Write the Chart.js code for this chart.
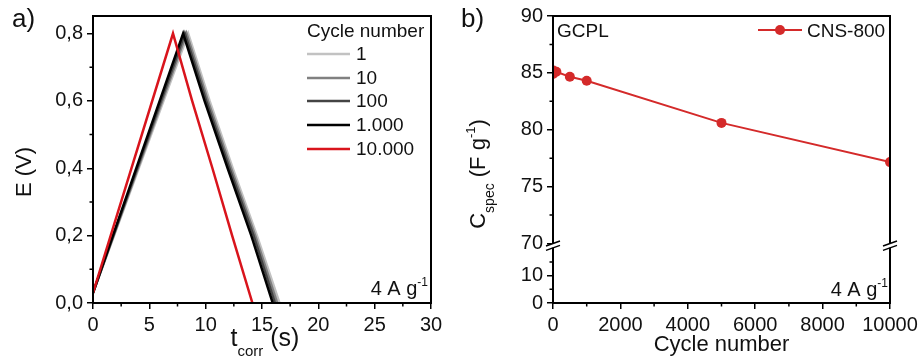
<!DOCTYPE html>
<html>
<head>
<meta charset="utf-8">
<script src="https://cdn.jsdelivr.net/npm/chart.js@4.4.0/dist/chart.umd.min.js"></script>
<style>
  body { margin: 0; background: #fff; }
  #wrapA { position: absolute; left: 0; top: 0; width: 460px; height: 363px; }
  #wrapB { position: absolute; left: 460px; top: 0; width: 463px; height: 363px; }
</style>
</head>
<body>
<div id="wrapA"><canvas id="chartA" width="460" height="363"></canvas></div>
<div id="wrapB"><canvas id="chartB" width="463" height="363"></canvas></div>
<script>
// === Panel a) GCPL curves ===
const cycleLabels = ["1", "10", "100", "1.000", "10.000"];
const cycleColors = ["#c2c2c2", "#808080", "#444444", "#000000", "#d9141c"];
// E (V) at each point of a curve: start, peak, then discharge
const gcdVoltage = [0.03, 0.8, 0.6, 0.4, 0.2, 0.0];
// t_corr (s) per cycle, same order as gcdVoltage
const gcdTime = [
  [0, 8.45, 10.35, 12.4, 14.55, 16.55],
  [0, 8.3, 10.2, 12.25, 14.4, 16.35],
  [0, 8.15, 10.05, 12.1, 14.25, 16.15],
  [0, 8.0, 9.9, 11.95, 14.05, 15.95],
  [0, 7.1, 8.8, 10.6, 12.35, 14.15]
];
const xTicksA = [0, 5, 10, 15, 20, 25, 30];
const yTicksA = [0, 0.2, 0.4, 0.6, 0.8];

// === Panel b) capacity vs cycles ===
const cycleNumbers = [1, 10, 100, 500, 1000, 5000, 10000];
const capacity = [84.9, 85.2, 85.1, 84.65, 84.3, 80.6, 77.15];
const xTicksB = [0, 2000, 4000, 6000, 8000, 10000];
const yTicksUpper = [70, 75, 80, 85, 90];
const yTicksLower = [0, 10];

const FONT = "'Liberation Sans', Arial, sans-serif";
const INK = "#111";

function mids(arr) {
  const out = [];
  for (let i = 0; i < arr.length - 1; i++) out.push((arr[i] + arr[i + 1]) / 2);
  return out;
}

function setTicks(values) {
  return scale => { scale.ticks = values.map(v => ({ value: v })); };
}

function axisStyle(values, fmt) {
  return {
    afterBuildTicks: setTicks(values),
    grid: { drawOnChartArea: false, tickLength: 6, color: "#000", lineWidth: 1.5 },
    border: { color: "#000", width: 2 },
    ticks: { font: { family: FONT, size: 20 }, color: INK, padding: 4, maxRotation: 0,
             callback: fmt || (v => v) }
  };
}

function minorY(ctx, scale, values, x) {
  ctx.beginPath();
  values.forEach(v => {
    const y = scale.getPixelForValue(v);
    ctx.moveTo(x, y); ctx.lineTo(x - 3.5, y);
  });
  ctx.stroke();
}

function minorX(ctx, scale, values, y) {
  ctx.beginPath();
  values.forEach(v => {
    const x = scale.getPixelForValue(v);
    ctx.moveTo(x, y); ctx.lineTo(x, y + 3.5);
  });
  ctx.stroke();
}

// draws a run of text pieces: [text, size, dy]
function richText(ctx, parts, x, y, align) {
  let w = 0;
  parts.forEach(p => { ctx.font = p[1] + "px " + FONT; w += ctx.measureText(p[0]).width; });
  let cx = align === "center" ? x - w / 2 : align === "right" ? x - w : x;
  ctx.textAlign = "left";
  ctx.textBaseline = "alphabetic";
  parts.forEach(p => {
    ctx.font = p[1] + "px " + FONT;
    ctx.fillText(p[0], cx, y + (p[2] || 0));
    cx += ctx.measureText(p[0]).width;
  });
}

const frameA = {
  id: "frameA",
  afterDraw(chart) {
    const ctx = chart.ctx, a = chart.chartArea;
    ctx.save();
    ctx.strokeStyle = "#000";
    ctx.lineWidth = 2;
    ctx.strokeRect(a.left, a.top, a.right - a.left, a.bottom - a.top);
    ctx.lineWidth = 1.5;
    minorY(ctx, chart.scales.y, mids(yTicksA), a.left);
    minorX(ctx, chart.scales.x, mids(xTicksA), a.bottom);

    ctx.fillStyle = INK;
    richText(ctx, [["a)", 26]], 12, 27, "left");
    richText(ctx, [["t", 25], ["corr", 15, 10], [" (s)", 25]], 265, 346, "center");
    richText(ctx, [["4 A g", 20], ["-1", 12, -9]], 428, 295, "right");

    ctx.save();
    ctx.translate(31, 172);
    ctx.rotate(-Math.PI / 2);
    richText(ctx, [["E (V)", 22]], 0, 0, "center");
    ctx.restore();

    // legend
    ctx.font = "19px " + FONT;
    ctx.textBaseline = "middle";
    ctx.textAlign = "left";
    ctx.fillText("Cycle number", 307, 32);
    const rows = [54, 78, 101, 125, 149];
    chart.data.datasets.forEach((ds, i) => {
      ctx.strokeStyle = ds.borderColor;
      ctx.lineWidth = 2.5;
      ctx.beginPath();
      ctx.moveTo(307, rows[i]); ctx.lineTo(350, rows[i]);
      ctx.stroke();
      ctx.fillText(ds.label, 356, rows[i] + 1);
    });
    ctx.restore();
  }
};

new Chart(document.getElementById("chartA"), {
  type: "line",
  data: {
    datasets: cycleLabels.map((lab, i) => ({
      label: lab,
      data: gcdTime[i].map((t, k) => ({ x: t, y: gcdVoltage[k] })),
      borderColor: cycleColors[i],
      borderWidth: 2.5,
      pointRadius: 0,
      tension: 0,
      order: cycleLabels.length - 1 - i
    }))
  },
  options: {
    responsive: false,
    animation: false,
    layout: { padding: { top: 15, right: 29, left: 0, bottom: 0 } },
    plugins: { legend: { display: false }, tooltip: { enabled: false } },
    scales: {
      x: Object.assign({ type: "linear", min: 0, max: 30, afterFit: s => { s.height = 60; } },
                       axisStyle(xTicksA)),
      y: Object.assign({ type: "linear", min: 0, max: 0.852, afterFit: s => { s.width = 93; } },
                       axisStyle(yTicksA, v => v.toFixed(1).replace(".", ",")))
    }
  },
  plugins: [frameA]
});

const frameB = {
  id: "frameB",
  afterDraw(chart) {
    const ctx = chart.ctx, a = chart.chartArea;
    const up = chart.scales.y, low = chart.scales.y0;
    ctx.save();
    ctx.strokeStyle = "#000";
    ctx.lineWidth = 2;
    ctx.strokeRect(a.left, a.top, a.right - a.left, a.bottom - a.top);
    ctx.lineWidth = 1.5;
    minorY(ctx, up, mids(yTicksUpper), a.left);
    minorY(ctx, low, [5, 15], a.left);
    minorX(ctx, chart.scales.x, mids(xTicksB), a.bottom);

    // axis breaks
    const yb = up.bottom;
    [a.left, a.right].forEach(x => {
      ctx.fillStyle = "#fff";
      ctx.fillRect(x - 2, yb - 2, 4, 4);
      ctx.strokeStyle = "#000";
      ctx.lineWidth = 1.5;
      ctx.beginPath();
      [-2.2, 2.2].forEach(o => {
        ctx.moveTo(x - 7, yb + o + 2.5);
        ctx.lineTo(x + 7, yb + o - 2.5);
      });
      ctx.stroke();
    });

    ctx.fillStyle = INK;
    richText(ctx, [["b)", 26]], 1, 27, "left");
    richText(ctx, [["GCPL", 19]], a.left + 4, 37, "left");
    richText(ctx, [["Cycle number", 22]], (a.left + a.right) / 2, 351, "center");
    richText(ctx, [["4 A g", 20], ["-1", 12, -9]], a.right - 2, 296, "right");

    ctx.save();
    ctx.translate(25, 174);
    ctx.rotate(-Math.PI / 2);
    richText(ctx, [["C", 22], ["spec", 14, 9], [" (F g", 22], ["-1", 13, -10], [")", 22]], 0, 0, "center");
    ctx.restore();

    // legend
    const ds = chart.data.datasets[0];
    ctx.strokeStyle = ds.borderColor;
    ctx.fillStyle = ds.borderColor;
    ctx.lineWidth = 2;
    ctx.beginPath();
    ctx.moveTo(298, 30); ctx.lineTo(342, 30);
    ctx.stroke();
    ctx.beginPath();
    ctx.arc(320, 30, 5, 0, Math.PI * 2);
    ctx.fill();
    ctx.fillStyle = INK;
    richText(ctx, [[ds.label, 19]], 347, 37, "left");
    ctx.restore();
  }
};

new Chart(document.getElementById("chartB"), {
  type: "line",
  data: {
    datasets: [{
      label: "CNS-800",
      data: cycleNumbers.map((c, i) => ({ x: c, y: capacity[i] })),
      yAxisID: "y",
      borderColor: "#d42a2a",
      backgroundColor: "#d42a2a",
      borderWidth: 2,
      pointRadius: 5,
      pointBorderWidth: 0,
      tension: 0
    }]
  },
  options: {
    responsive: false,
    animation: false,
    layout: { padding: { top: 15, right: 33, left: 0, bottom: 0 } },
    plugins: { legend: { display: false }, tooltip: { enabled: false } },
    scales: {
      x: Object.assign({ type: "linear", min: 0, max: 10000, afterFit: s => { s.height = 60; } },
                       axisStyle(xTicksB)),
      // lower segment listed first: Chart.js stacks left boxes bottom-up here
      y0: Object.assign({ type: "linear", position: "left", stack: "cap", stackWeight: 57.5,
                          min: 0, max: 21, afterFit: s => { s.width = 93; } },
                        axisStyle(yTicksLower)),
      y: Object.assign({ type: "linear", position: "left", stack: "cap", stackWeight: 230.5,
                         min: 69.8, max: 90, afterFit: s => { s.width = 93; } },
                       axisStyle(yTicksUpper))
    }
  },
  plugins: [frameB]
});
</script>
</body>
</html>
